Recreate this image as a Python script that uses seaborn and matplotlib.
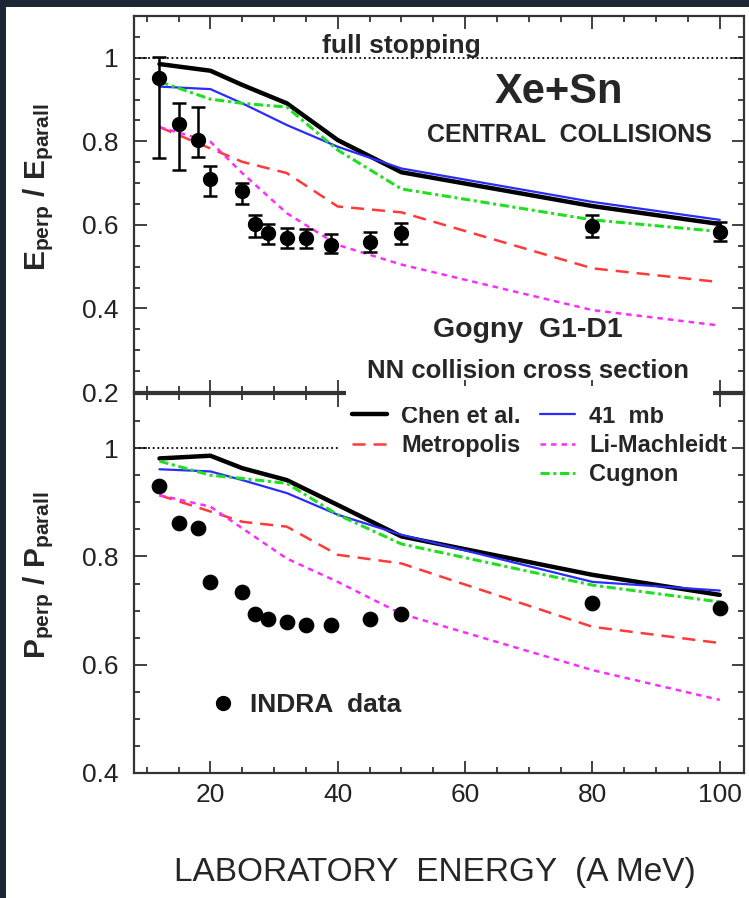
import matplotlib
matplotlib.use("Agg")
import matplotlib.pyplot as plt
import seaborn as sns
from matplotlib.lines import Line2D
from matplotlib.patches import Rectangle
from matplotlib.ticker import MultipleLocator, FuncFormatter

# =========================
# DATA
# =========================

model_energy = [12, 20, 25, 32, 40, 50, 80, 100]

# E_perp / E_parall
chen_E = [0.985, 0.969, 0.935, 0.891, 0.803, 0.726, 0.645, 0.602]
mb41_E = [0.931, 0.925, 0.891, 0.839, 0.787, 0.735, 0.655, 0.612]
metro_E = [0.834, 0.783, 0.751, 0.724, 0.644, 0.630, 0.496, 0.463]
lim_E = [0.834, 0.799, 0.724, 0.628, 0.552, 0.505, 0.396, 0.359]
cug_E = [0.943, 0.901, 0.891, 0.882, 0.779, 0.686, 0.612, 0.584]

# P_perp / P_parall
chen_P = [0.981, 0.986, 0.963, 0.941, 0.895, 0.837, 0.766, 0.729]
mb41_P = [0.961, 0.957, 0.941, 0.917, 0.877, 0.840, 0.753, 0.737]
metro_P = [0.913, 0.883, 0.864, 0.855, 0.803, 0.787, 0.670, 0.640]
lim_P = [0.913, 0.892, 0.852, 0.796, 0.753, 0.694, 0.590, 0.535]
cug_P = [0.976, 0.950, 0.944, 0.935, 0.877, 0.823, 0.747, 0.716]

# INDRA data
indra_energy = [12, 15, 18, 20, 25, 27, 29, 32, 35, 39, 45, 50, 80, 100]
indra_E = [0.951, 0.841, 0.802, 0.710, 0.680, 0.602, 0.581, 0.569,
           0.569, 0.552, 0.560, 0.581, 0.598, 0.582]
indra_E_lo = [0.19, 0.11, 0.04, 0.04, 0.03, 0.03, 0.027, 0.025,
              0.025, 0.02, 0.026, 0.027, 0.026, 0.02]
indra_E_hi = [0.05, 0.05, 0.08, 0.03, 0.02, 0.021, 0.02, 0.023,
              0.02, 0.027, 0.024, 0.023, 0.026, 0.026]
indra_P = [0.930, 0.862, 0.852, 0.753, 0.734, 0.694, 0.684, 0.678,
           0.674, 0.674, 0.684, 0.694, 0.714, 0.704]

FULL_STOP = 1.0
FULL_STOP_END_P = 40

# =========================
# STYLE
# =========================

sns.set_theme(style="ticks")
plt.rcParams["font.family"] = ["Liberation Sans", "DejaVu Sans"]
plt.rcParams["mathtext.fontset"] = "custom"
plt.rcParams["mathtext.rm"] = "Liberation Sans"
plt.rcParams["mathtext.bf"] = "Liberation Sans:bold"
plt.rcParams["mathtext.it"] = "Liberation Sans:italic"

models = [
    ("Chen et al.", chen_E, chen_P, dict(color="black", linewidth=3.2, linestyle="-")),
    ("41  mb", mb41_E, mb41_P, dict(color="#2b2bff", linewidth=1.6, linestyle="-")),
    ("Metropolis", metro_E, metro_P, dict(color="#ff3a3a", linewidth=1.8, linestyle=(0, (5.2, 3.2)))),
    ("Li-Machleidt", lim_E, lim_P, dict(color="#ff2cff", linewidth=1.8, linestyle=(0, (2.2, 2.0)))),
    ("Cugnon", cug_E, cug_P, dict(color="#1fe01f", linewidth=2.2, linestyle=(0, (3, 1.2, 1, 1.2)))),
]

W, H = 749, 898
fig = plt.figure(figsize=(W / 100, H / 100), dpi=100)
fig.patch.set_facecolor("white")


def fx(px):
    return px / W


def fy(py):
    return 1 - py / H


L, R = 134, 744
ax1 = fig.add_axes([fx(L), fy(392), fx(R) - fx(L), fy(16) - fy(392)])
ax2 = fig.add_axes([fx(L), fy(773), fx(R) - fx(L), fy(394) - fy(773)])

# =========================
# MODEL LINES
# =========================

for name, e_vals, p_vals, kw in models:
    sns.lineplot(x=model_energy, y=e_vals, ax=ax1, sort=False,
                 errorbar=None, legend=False, **kw)
    sns.lineplot(x=model_energy, y=p_vals, ax=ax2, sort=False,
                 errorbar=None, legend=False, **kw)

# full stopping reference
ax1.axhline(FULL_STOP, color="black", linestyle=(0, (1, 1.6)), linewidth=1.3)
ax2.hlines(FULL_STOP, 8, FULL_STOP_END_P, color="black",
           linestyle=(0, (1, 1.6)), linewidth=1.3)

# =========================
# INDRA DATA
# =========================

ax1.errorbar(indra_energy, indra_E, yerr=[indra_E_lo, indra_E_hi],
             fmt="o", color="black", ms=10, capsize=5,
             elinewidth=1.8, capthick=1.8, zorder=6)
sns.scatterplot(x=indra_energy, y=indra_P, ax=ax2, color="black",
                s=110, edgecolor="black", zorder=6, legend=False)

# =========================
# AXES
# =========================

fmt = FuncFormatter(lambda v, p: f"{v:g}")
for ax in (ax1, ax2):
    ax.set_xlim(8, 103.8)
    ax.xaxis.set_major_locator(MultipleLocator(20))
    ax.xaxis.set_minor_locator(MultipleLocator(5))
    ax.yaxis.set_major_locator(MultipleLocator(0.2))
    ax.yaxis.set_minor_locator(MultipleLocator(0.05))
    ax.xaxis.set_major_formatter(fmt)
    ax.yaxis.set_major_formatter(fmt)
    ax.tick_params(which="both", direction="in", top=True, right=True,
                   color="#333333", width=1.3, labelsize=19,
                   labelcolor="#222222")
    ax.tick_params(which="major", length=9)
    ax.tick_params(which="minor", length=4.5)
    ax.tick_params(axis="y", pad=11)
    ax.tick_params(axis="x", pad=7)
    for sp in ax.spines.values():
        sp.set_linewidth(1.6)
        sp.set_color("#333333")
    ax.set_facecolor("white")

ax1.set_ylim(0.2, 1.1)
ax2.set_ylim(0.4, 1.1)
ax1.tick_params(labelbottom=False)

ax1.set_ylabel(r"$\mathbf{E_{perp}\ /\ E_{parall}}$", fontsize=21.5)
ax1.yaxis.set_label_coords(-0.128, 0.545)
ax2.set_ylabel(r"$\mathbf{P_{perp}\ /\ P_{parall}}$", fontsize=21.5)
ax2.yaxis.set_label_coords(-0.128, 0.522)

ax2.set_xlabel("LABORATORY  ENERGY  (A MeV)", fontsize=24)
ax2.xaxis.set_label_coords(0.493, -0.222)

# =========================
# ANNOTATIONS
# =========================

ax1.text(50.0, 1.012, "full stopping", ha="center", va="baseline",
         fontsize=19, fontweight="bold")
ax1.text(74.8, 0.891, "Xe+Sn", ha="center", va="baseline",
         fontsize=30, fontweight="bold")
ax1.text(98.8, 0.799, "CENTRAL  COLLISIONS", ha="right", va="baseline",
         fontsize=18, fontweight="bold")
ax1.text(69.8, 0.332, "Gogny  G1-D1", ha="center", va="baseline",
         fontsize=20.5, fontweight="bold")
ax1.text(69.8, 0.233, "NN collision cross section", ha="center",
         va="baseline", fontsize=18.5, fontweight="bold")

# legends
handles = [Line2D([], [], **models[0][3]), Line2D([], [], **models[2][3]),
           Line2D([], [], color="none"),
           Line2D([], [], **models[1][3]), Line2D([], [], **models[3][3]),
           Line2D([], [], **models[4][3])]
labels = [models[0][0], models[2][0], "", models[1][0], models[3][0],
          models[4][0]]
leg = ax2.legend(handles, labels, ncol=2, loc="upper left",
                 bbox_to_anchor=(0.357, 0.972), frameon=False,
                 prop={"weight": "bold", "size": 17}, handlelength=1.5,
                 handletextpad=0.6, columnspacing=0.8, labelspacing=0.27,
                 borderpad=0, borderaxespad=0)
ax2.add_artist(leg)

h_indra = Line2D([], [], marker="o", linestyle="none", color="black", ms=10)
ax2.legend([h_indra], ["INDRA  data"], loc="center left",
           bbox_to_anchor=(0.125, 0.179), frameon=False,
           prop={"weight": "bold", "size": 19}, handlelength=1.0,
           handletextpad=0.5, borderpad=0, borderaxespad=0)

# white gap in the shared frame under the cross-section label
fig.add_artist(Rectangle((fx(346), fy(407)), fx(713) - fx(346),
                         fy(386) - fy(407), transform=fig.transFigure,
                         facecolor="white", edgecolor="none", zorder=3))

# dark screenshot border (left and top)
border = "#1c2636"
fig.add_artist(Rectangle((0, 0), fx(6), 1, transform=fig.transFigure,
                         facecolor=border, edgecolor="none", zorder=10))
fig.add_artist(Rectangle((0, fy(7)), 1, 7 / H, transform=fig.transFigure,
                         facecolor=border, edgecolor="none", zorder=10))

fig.savefig("out.png", dpi=100)
